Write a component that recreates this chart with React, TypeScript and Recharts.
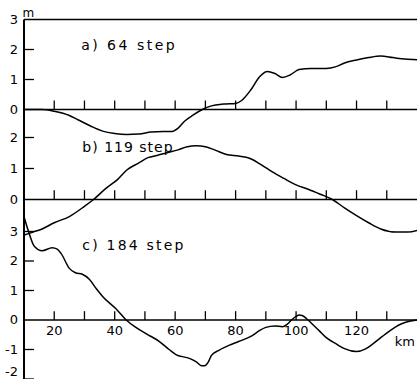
import { LineChart, Line, XAxis, YAxis, ReferenceLine, ReferenceDot } from 'recharts'

// distance along the profile (km) and elevation (m) for each step
const kmA = [10, 16, 20, 25, 28, 32, 36, 40, 44, 48, 52, 56, 59, 61, 63, 66, 69, 72, 76, 80, 82, 85, 88, 90.5, 93, 95.5, 98, 101, 105, 110, 113, 116, 120, 124, 128, 132, 136, 140]
const valA = [0, 0, -0.06, -0.2, -0.35, -0.55, -0.72, -0.8, -0.83, -0.82, -0.75, -0.73, -0.73, -0.62, -0.4, -0.18, 0, 0.12, 0.18, 0.2, 0.3, 0.65, 1.1, 1.27, 1.2, 1.07, 1.15, 1.33, 1.37, 1.37, 1.42, 1.55, 1.65, 1.73, 1.78, 1.73, 1.68, 1.66]

const kmB = [10, 13, 16, 20, 25, 30, 33, 37, 41, 44, 48, 51, 54, 57, 61, 64, 67, 70, 73, 77, 81, 84.6, 88, 92, 96, 100, 104, 108, 112, 116, 120, 124, 128, 133, 137, 140]
const valB = [-1.15, -1.05, -0.95, -0.75, -0.55, -0.22, 0, 0.35, 0.65, 0.95, 1.18, 1.35, 1.42, 1.5, 1.6, 1.7, 1.73, 1.7, 1.6, 1.45, 1.4, 1.33, 1.15, 0.9, 0.68, 0.47, 0.33, 0.17, 0, -0.27, -0.52, -0.75, -0.95, -1.05, -1.05, -1.0]

const kmC = [10, 11.5, 13.4, 16, 19.3, 21, 22.3, 25, 27, 29.3, 31.6, 34, 36, 40.5, 43.8, 47, 50.5, 54.8, 58, 60.4, 64.7, 67, 68.7, 69.7, 71, 72, 74.6, 78, 81, 85.5, 88, 90, 93, 95.5, 97, 98.5, 100, 101, 102, 103.4, 105, 107.7, 110, 113.4, 116, 120, 123, 125.3, 128, 131, 134, 136.5, 140]
const valC = [3.5, 3.0, 2.5, 2.35, 2.45, 2.4, 2.25, 1.75, 1.6, 1.55, 1.38, 1.05, 0.8, 0.37, 0, -0.25, -0.47, -0.73, -1.0, -1.18, -1.3, -1.42, -1.55, -1.55, -1.42, -1.2, -1.02, -0.85, -0.73, -0.53, -0.35, -0.25, -0.2, -0.23, -0.15, 0, 0.12, 0.17, 0.15, 0.05, -0.1, -0.37, -0.6, -0.82, -0.97, -1.07, -0.98, -0.82, -0.6, -0.37, -0.17, -0.07, 0]

const kmTicks = [20, 30, 40, 50, 60, 70, 80, 90, 100, 110, 120, 130]
const kmLabels = [20, 40, 60, 80, 100, 120]

const ticksA = [0, 1, 2, 3]
const ticksB = [0, 1, 2]
const ticksC = [-2, -1, 0, 1, 2, 3]

const W = 417
const H = 390
const FONT = 'DejaVu Sans'

type Panel = {
  km: number[]
  val: number[]
  domain: [number, number]
  ticks: number[]
  inner: number[]
  title: string
  titleAt: [number, number]
  spacing: number
}

const panels: Panel[] = [
  { km: kmA, val: valA, domain: [-9.35, 3.65], ticks: ticksA, inner: [1, 2], title: 'a) 64 step', titleAt: [28.9, 2.15], spacing: 2.5 },
  { km: kmB, val: valB, domain: [-6.145, 6.435], ticks: ticksB, inner: [1, 2], title: 'b) 119 step', titleAt: [29.3, 1.69], spacing: 1 },
  { km: kmC, val: valC, domain: [-2.373, 10.847], ticks: ticksC, inner: [-2, -1, 1, 2, 3], title: 'c) 184 step', titleAt: [29.3, 2.55], spacing: 2.2 },
]

// left axis label; the bottom one is nudged up so it stays inside the frame
const YTick = (props: any) => {
  const { x, y, payload } = props
  const ty = Math.min(y, 371)
  return (
    <text x={x} y={ty} dy={4.5} textAnchor="end" fontSize={13} fontFamily={FONT} fill="#000">
      {payload.value}
    </text>
  )
}

function PanelChart({ p, index }: { p: Panel; index: number }) {
  const data = p.km.map((k, i) => ({ km: k, v: p.val[i] }))
  return (
    <div style={{ position: 'absolute', left: 0, top: 0 }}>
      <LineChart width={W} height={H} data={data} margin={{ top: 0, right: 0, bottom: 0, left: 0 }}>
        <XAxis dataKey="km" type="number" domain={[10, 140]} allowDataOverflow hide />
        <YAxis
          type="number"
          domain={p.domain}
          allowDataOverflow
          ticks={p.ticks}
          width={24}
          axisLine={false}
          tickLine={false}
          tickSize={0}
          tickMargin={6}
          interval={0}
          tick={<YTick />}
        />
        <ReferenceLine y={0} stroke="#000" strokeWidth={1.5} />
        {index === 0 && <ReferenceLine y={3} stroke="#000" strokeWidth={1.5} />}
        {index === 0 && (
          <ReferenceLine segment={[{ x: 10, y: 3 }, { x: 10, y: p.domain[0] }]} stroke="#000" strokeWidth={2} />
        )}
        {kmTicks.map(k => (
          <ReferenceLine key={'t' + k} segment={[{ x: k, y: 0 }, { x: k, y: 0.3 }]} stroke="#000" strokeWidth={1.3} />
        ))}
        {p.inner.map(v => (
          <ReferenceLine key={'y' + v} segment={[{ x: 10, y: v }, { x: 13.3, y: v }]} stroke="#000" strokeWidth={1.3} />
        ))}
        <ReferenceDot
          x={p.titleAt[0]}
          y={p.titleAt[1]}
          r={0}
          shape={(s: any) => (
            <text x={s.cx} y={s.cy + 5} fontSize={14} fontFamily={FONT} letterSpacing={p.spacing} fill="#000">
              {p.title}
            </text>
          )}
        />
        {index === 0 && (
          <ReferenceDot
            x={11.4}
            y={3.23}
            r={0}
            shape={(s: any) => (
              <text x={s.cx} y={s.cy + 4} fontSize={12} fontFamily={FONT} textAnchor="middle" fill="#000">
                m
              </text>
            )}
          />
        )}
        {index === 2 &&
          kmLabels.map(k => (
            <ReferenceDot
              key={'l' + k}
              x={k}
              y={0}
              r={0}
              shape={(s: any) => (
                <text x={s.cx} y={s.cy + 15} fontSize={13} fontFamily={FONT} textAnchor="middle" fill="#000">
                  {k}
                </text>
              )}
            />
          ))}
        {index === 2 && (
          <ReferenceDot
            x={136}
            y={-0.71}
            r={0}
            shape={(s: any) => (
              <text x={s.cx} y={s.cy + 5} fontSize={13} fontFamily={FONT} textAnchor="middle" fill="#000">
                km
              </text>
            )}
          />
        )}
        <Line type="monotone" dataKey="v" stroke="#000" strokeWidth={1.5} dot={false} isAnimationActive={false} />
      </LineChart>
    </div>
  )
}

export default function App() {
  return (
    <div style={{ position: 'absolute', left: 0, top: 0, width: W, height: 379, overflow: 'hidden', background: '#fff' }}>
      {panels.map((p, i) => (
        <PanelChart key={i} p={p} index={i} />
      ))}
    </div>
  )
}
